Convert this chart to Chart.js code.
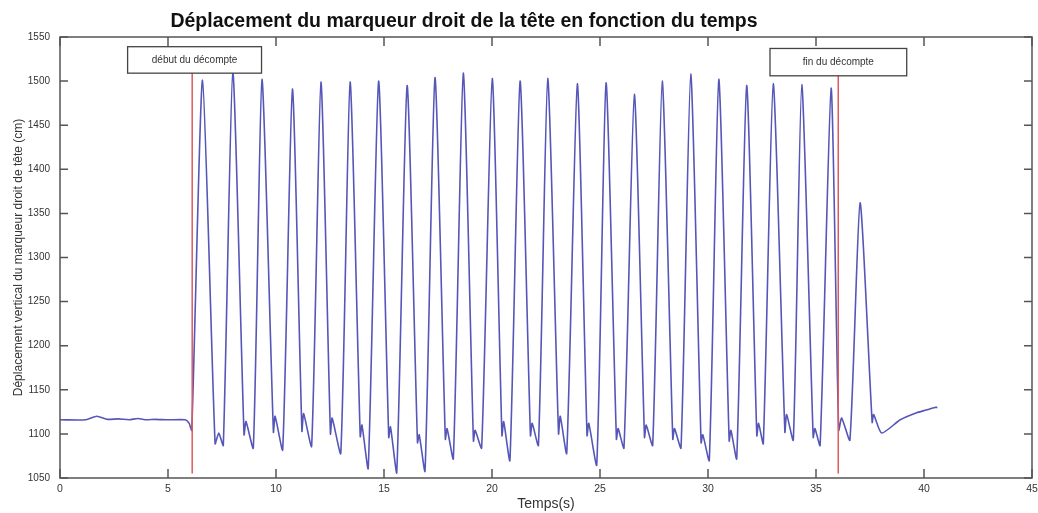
<!DOCTYPE html>
<html>
<head>
<meta charset="utf-8">
<script src="https://cdn.jsdelivr.net/npm/chart.js@4.4.1/dist/chart.umd.min.js"></script>
<style>
  body { margin: 0; background: #fff; }
  #wrap { width: 1038px; height: 513px; }
</style>
</head>
<body>
<div id="wrap"><canvas id="myChart" width="1038" height="513"></canvas></div>
<script>
// temps (s) et position verticale (cm)
const timeS = [
  0, 1.2, 1.7, 2.2, 2.7, 3.2, 3.6, 4.0, 4.4, 5.0, 5.8, 5.98, 6.1,
  6.6, 7.18, 7.35, 7.56,
  8.0, 8.52, 8.61, 8.95,
  9.35, 9.88, 9.96, 10.31,
  10.76, 11.2, 11.28, 11.65,
  12.08, 12.52, 12.6, 13.0,
  13.43, 13.9, 13.98, 14.27,
  14.75, 15.22, 15.3, 15.59,
  16.07, 16.55, 16.63, 16.9,
  17.36, 17.84, 17.92, 18.21,
  18.67, 19.14, 19.22, 19.52,
  20.01, 20.46, 20.54, 20.83,
  21.3, 21.78, 21.86, 22.15,
  22.58, 23.08, 23.16, 23.46,
  23.95, 24.4, 24.48, 24.85,
  25.28, 25.76, 25.84, 26.11,
  26.59, 27.06, 27.14, 27.44,
  27.88, 28.37, 28.45, 28.75,
  29.2, 29.68, 29.76, 30.06,
  30.5, 30.98, 31.06, 31.33,
  31.79, 32.26, 32.34, 32.56,
  33.02, 33.56, 33.64, 33.95,
  34.34, 34.87, 34.95, 35.19,
  35.7, 36.05, 36.19, 36.57,
  37.04, 37.6, 37.67, 38.04,
  38.9, 39.66, 40.1, 40.5, 40.62
];
const posCm = [
  1116, 1116, 1120, 1116.5, 1117, 1116, 1117.5, 1116, 1116.5, 1116, 1116, 1112, 1104,
  1501, 1089, 1101, 1087,
  1511, 1099, 1114, 1084,
  1502, 1102, 1120, 1082,
  1491, 1103, 1123, 1086,
  1499, 1100, 1118, 1078,
  1499, 1097, 1110, 1061,
  1500, 1096, 1108, 1056,
  1495, 1090, 1099, 1058,
  1504, 1094, 1106, 1072,
  1509, 1092, 1104, 1084,
  1503, 1098, 1114, 1070,
  1500, 1098, 1112, 1087,
  1503, 1100, 1120, 1078,
  1497, 1098, 1112, 1065,
  1498, 1094, 1106, 1084,
  1485, 1096, 1110, 1087,
  1500, 1094, 1106, 1084,
  1508, 1090, 1099, 1070,
  1502, 1092, 1104, 1072,
  1495, 1098, 1112, 1089,
  1497, 1102, 1122, 1093,
  1496, 1096, 1106, 1087,
  1492, 1104, 1118, 1093,
  1362, 1113, 1122, 1101,
  1116, 1124, 1127, 1130, 1130
];

const xTicks = [0, 5, 10, 15, 20, 25, 30, 35, 40, 45];
const yTicks = [1050, 1100, 1150, 1200, 1250, 1300, 1350, 1400, 1450, 1500, 1550];

// début / fin du décompte
const markerTimes = [6.12, 36.03];
const markerLabels = ['début du décompte', 'fin du décompte'];
const markerLow = 1055;
const markerHigh = 1512;

const titleText = 'Déplacement du marqueur droit de la tête en fonction du temps';
const font = '"Liberation Sans", Arial, sans-serif';

// cadres des étiquettes, en unités des axes
const labelBoxes = [
  { x0: 3.13, x1: 9.33, y0: 1539, y1: 1509 },
  { x0: 32.87, x1: 39.2, y0: 1537, y1: 1506 }
];

const frame = {
  id: 'frame',
  afterDatasetsDraw(chart) {
    const { ctx, scales: { x, y } } = chart;
    ctx.save();
    labelBoxes.forEach((b, i) => {
      const l = x.getPixelForValue(b.x0), r = x.getPixelForValue(b.x1);
      const t = y.getPixelForValue(b.y0), bt = y.getPixelForValue(b.y1);
      ctx.fillStyle = '#fff';
      ctx.fillRect(l, t, r - l, bt - t);
      ctx.strokeStyle = '#444';
      ctx.lineWidth = 1.3;
      ctx.strokeRect(l, t, r - l, bt - t);
      ctx.fillStyle = '#333';
      ctx.font = '10px ' + font;
      ctx.textAlign = 'center';
      ctx.textBaseline = 'middle';
      ctx.fillText(markerLabels[i], (l + r) / 2, (t + bt) / 2);
    });
    ctx.restore();
  },
  afterDraw(chart) {
    const { ctx, chartArea: a, scales: { x, y } } = chart;
    ctx.save();
    ctx.strokeStyle = '#555';
    ctx.lineWidth = 1.5;
    ctx.strokeRect(a.left, a.top, a.right - a.left, a.bottom - a.top);
    ctx.beginPath();
    xTicks.forEach(v => {
      const px = x.getPixelForValue(v);
      ctx.moveTo(px, a.bottom); ctx.lineTo(px, a.bottom - 9);
      ctx.moveTo(px, a.top); ctx.lineTo(px, a.top + 9);
    });
    yTicks.forEach(v => {
      const py = y.getPixelForValue(v);
      ctx.moveTo(a.left, py); ctx.lineTo(a.left + 8, py);
      ctx.moveTo(a.right, py); ctx.lineTo(a.right - 8, py);
    });
    ctx.stroke();
    ctx.fillStyle = '#111';
    ctx.font = 'bold 19.5px ' + font;
    ctx.textAlign = 'center';
    ctx.textBaseline = 'middle';
    ctx.fillText(titleText, 464, 22);
    ctx.restore();
  }
};

const ctx = document.getElementById('myChart').getContext('2d');
new Chart(ctx, {
  type: 'line',
  data: {
    datasets: [
      ...markerTimes.map(t => ({
        data: [{ x: t, y: markerLow }, { x: t, y: markerHigh }],
        borderColor: '#dd5a5a',
        borderWidth: 1.5,
        pointRadius: 0
      })),
      {
        data: timeS.map((t, i) => ({ x: t, y: posCm[i] })),
        borderColor: '#5656b8',
        borderWidth: 1.6,
        pointRadius: 0,
        tension: 0.2
      }
    ]
  },
  options: {
    responsive: false,
    animation: false,
    layout: { padding: { top: 37, right: 6, left: 0, bottom: 0 } },
    plugins: { legend: { display: false }, tooltip: { enabled: false }, title: { display: false } },
    scales: {
      x: {
        type: 'linear', min: 0, max: 45,
        afterBuildTicks: s => { s.ticks = xTicks.map(v => ({ value: v })); },
        afterFit: s => { s.height = 35; s.paddingLeft = 0; s.paddingRight = 0; },
        grid: { display: false, drawTicks: false }, border: { display: false },
        ticks: { color: '#333', font: { size: 10.5, family: font }, padding: 5, maxRotation: 0, callback: v => String(v) },
        title: { display: true, text: 'Temps(s)', color: '#333', font: { size: 14, family: font }, padding: { top: 0, bottom: 0 } }
      },
      y: {
        type: 'linear', min: 1050, max: 1550,
        afterBuildTicks: s => { s.ticks = yTicks.map(v => ({ value: v })); },
        afterFit: s => { s.width = 60; },
        grid: { display: false, drawTicks: false }, border: { display: false },
        ticks: { color: '#333', font: { size: 10, family: font }, padding: 10, callback: v => String(v) },
        title: { display: true, text: 'Déplacement vertical du marqueur droit de tête (cm)', color: '#333', font: { size: 12, family: font }, padding: { top: 11, bottom: 0 } }
      }
    }
  },
  plugins: [frame]
});
</script>
</body>
</html>
